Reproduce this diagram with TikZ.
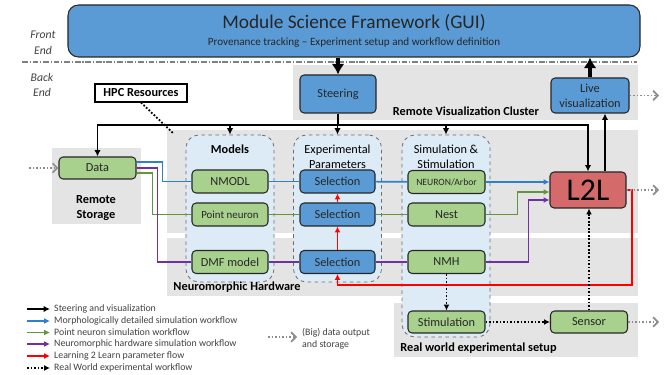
\documentclass[tikz,border=0pt]{standalone}
\usepackage{fontspec}
\setmainfont{Carlito}
\usepackage{xcolor}
\usepackage{tikz}
\usetikzlibrary{arrows.meta,calc}
\definecolor{fwblue}{RGB}{91,155,213}
\definecolor{fwgreen}{RGB}{169,209,142}
\definecolor{fwred}{RGB}{212,106,106}
\definecolor{fwgray}{RGB}{228,228,228}
\definecolor{fwpale}{RGB}{221,235,247}
\definecolor{fwedge}{RGB}{38,38,38}
\definecolor{fwtext}{RGB}{64,64,64}
\definecolor{lnblue}{RGB}{47,128,204}
\definecolor{lngreen}{RGB}{96,150,60}
\definecolor{lnpurple}{RGB}{112,48,160}
\definecolor{lnred}{RGB}{255,0,0}
\definecolor{lnout}{RGB}{140,140,140}
\tikzset{
fwbox/.style={rectangle,rounded corners=3.5pt,draw=fwedge,line width=0.9pt,align=center,inner sep=1pt,text=fwedge},
fwbluebox/.style={fwbox,fill=fwblue},
fwgreenbox/.style={fwbox,fill=fwgreen},
fwltl/.style={fwbox,fill=fwred,text=black,font=\fontsize{27}{30}\selectfont},
fwhpc/.style={rectangle,draw=black,line width=0.9pt,fill=white,inner sep=1pt,font=\bfseries\fontsize{10.5}{12.5}\selectfont},
fwregion/.style={rectangle,fill=fwgray,inner sep=0pt},
fwgroup/.style={rectangle,rounded corners=11pt,draw=gray!85!black,dashed,line width=0.7pt,fill=fwpale,inner sep=0pt},
fwtitle/.style={align=center,inner sep=0pt,font=\fontsize{10.5}{12.8}\selectfont},
fwlabel/.style={align=center,inner sep=0pt,font=\bfseries\fontsize{10.5}{13.5}\selectfont},
fwside/.style={align=center,inner sep=0pt,text=fwtext,font=\itshape\fontsize{10}{13.5}\selectfont},
fwlegend/.style={anchor=west,align=left,inner sep=0pt,text=fwtext,font=\fontsize{8.4}{10.2}\selectfont},
fwsep/.style={gray,line width=1pt,dash pattern=on 5pt off 1.5pt on 1pt off 1.5pt},
fwbig/.style={line width=2.6pt,-{Latex[length=9pt,width=11pt]}},
fwsteer/.style={line width=1.5pt,black},
fwsteerarr/.style={fwsteer,-{Latex[length=5.5pt,width=5.5pt]}},
fwtip/.style={-{Latex[length=5pt,width=5pt]}},
fwbline/.style={line width=1.4pt,lnblue},
fwgline/.style={line width=1.4pt,lngreen},
fwpline/.style={line width=1.4pt,lnpurple},
fwrline/.style={line width=1.4pt,lnred},
fwdots/.style={black,line width=1.5pt,dash pattern=on 1.5pt off 1.5pt,-{Latex[length=5pt,width=5pt]}},
fwhpcdots/.style={black,line width=1.5pt,dash pattern=on 1.5pt off 1.5pt},
fwout/.style={lnout,line width=1.4pt,dash pattern=on 1.5pt off 1.5pt,-{Straight Barb[length=4pt,width=8pt]}}
}
\begin{document}
\begin{tikzpicture}[
x=0.03cm,
y=-0.03cm,
every node/.style={font=\fontsize{10.5}{12.5}\selectfont}
]
\useasboundingbox (0,0) rectangle (666,375);
\node[fwregion,minimum width=10.35cm,minimum height=1.65cm] (visreg) at (465.5,92.5) {};
\node[fwregion,minimum width=14.13cm,minimum height=3.09cm] (hpcreg) at (402.5,181.5) {};
\node[fwregion,minimum width=14.13cm,minimum height=1.74cm] (nmreg) at (402.5,267) {};
\node[fwregion,minimum width=2.67cm,minimum height=2.28cm] (storereg) at (96.5,186) {};
\node[fwregion,minimum width=7.32cm,minimum height=1.62cm] (realreg) at (516,330) {};
\node[fwbluebox,rounded corners=9pt,minimum width=17.16cm,minimum height=1.56cm,font=\fontsize{9.5}{14.5}\selectfont]
  (gui) at (354,31) {{\fontsize{16.5}{18}\selectfont Module Science Framework (GUI)}\\Provenance tracking -- Experiment setup and workflow definition};
\node[fwside] (front) at (43,43) {Front\\End};
\node[fwside] (back) at (42,85) {Back\\End};
\node[fwhpc,minimum width=2.76cm,minimum height=0.54cm] (hpc) at (141,93) {HPC Resources};
\node[fwbluebox,minimum width=2.28cm,minimum height=1.14cm] (steering) at (338,94) {Steering};
\node[fwbluebox,minimum width=2.34cm,minimum height=1.05cm] (livevis) at (590,95.5) {Live\\visualization};
\node[fwlabel] (vislabel) at (466,111.5) {Remote Visualization Cluster};
\node[fwgroup,minimum width=2.64cm,minimum height=4.41cm] (models) at (230,208.5) {};
\node[fwgroup,minimum width=2.64cm,minimum height=4.41cm] (params) at (337.5,208.5) {};
\node[fwgroup,minimum width=2.64cm,minimum height=6.06cm] (simstim) at (446,236) {};
\node[fwlabel] (modelstitle) at (230,149) {Models};
\node[fwtitle] (paramstitle) at (337.5,156.5) {Experimental\\Parameters};
\node[fwtitle] (simtitle) at (446,156.5) {Simulation \&\\Stimulation};
\node[fwgreenbox,minimum width=2.31cm,minimum height=0.66cm] (data) at (97.5,168) {Data};
\node[fwlabel] (storelabel) at (96,208) {Remote\\Storage};
\node[fwgreenbox,minimum width=2.28cm,minimum height=0.69cm] (nmodl) at (230,181.5) {NMODL};
\node[fwgreenbox,minimum width=2.28cm,minimum height=0.69cm,font=\fontsize{9.3}{11}\selectfont] (pointneuron) at (230,214.5) {Point neuron};
\node[fwgreenbox,minimum width=2.28cm,minimum height=0.69cm] (dmf) at (230,262) {DMF model};
\node[fwbluebox,minimum width=2.25cm,minimum height=0.69cm] (sel1) at (337.5,181.5) {Selection};
\node[fwbluebox,minimum width=2.25cm,minimum height=0.69cm] (sel2) at (337.5,214.5) {Selection};
\node[fwbluebox,minimum width=2.25cm,minimum height=0.69cm] (sel3) at (337.5,262) {Selection};
\node[fwgreenbox,minimum width=2.31cm,minimum height=0.69cm,font=\fontsize{8.2}{10}\selectfont] (neuron) at (446.5,182) {NEURON/Arbor};
\node[fwgreenbox,minimum width=2.31cm,minimum height=0.69cm] (nest) at (446.5,214.5) {Nest};
\node[fwgreenbox,minimum width=2.31cm,minimum height=0.69cm] (nmh) at (446.5,262) {NMH};
\node[fwltl,minimum width=2.28cm,minimum height=1.08cm] (ltl) at (588,190) {L2L};
\node[fwlabel] (nmlabel) at (237,287) {Neuromorphic Hardware};
\node[fwgreenbox,minimum width=2.31cm,minimum height=0.66cm] (stim) at (446.5,322) {Stimulation};
\node[fwgreenbox,minimum width=2.31cm,minimum height=0.66cm] (sensor) at (589,322) {Sensor};
\node[fwlabel] (reallabel) at (478.5,348) {Real world experimental setup};
\node[fwlegend] (lgsteer) at (54,309) {Steering and visualization};
\node[fwlegend] (lgmorph) at (54,321) {Morphologically detailed simulation workflow};
\node[fwlegend] (lgpoint) at (54,332.5) {Point neuron simulation workflow};
\node[fwlegend] (lgneuro) at (54,344) {Neuromorphic hardware simulation workflow};
\node[fwlegend] (lglearn) at (54,356) {Learning 2 Learn parameter flow};
\node[fwlegend] (lgreal) at (54,368) {Real World experimental workflow};
\node[fwlegend] (lgout) at (302,339) {(Big) data output\\and storage};
\coordinate (bus) at (338,125);
\coordinate (vistap) at (605,0);
\coordinate (hpctip) at (174,134);
\coordinate (ltlloop) at (632,285);
\coordinate (outx) at (659,0);
\coordinate (datain) at (29,168);
\draw[fwsep] (22,62) -- (637,62);
\draw[fwbig] (gui.south -| steering) -- (steering);
\draw[fwbig] (livevis) -- (livevis.north |- gui.south);
\draw[fwsteer] (steering) -- (bus);
\draw[fwsteerarr] (bus) -| (data);
\draw[fwsteerarr] (bus) -| (ltl);
\draw[fwsteerarr] (models.north |- bus) -- (models);
\draw[fwsteerarr] (params.north |- bus) -- (params);
\draw[fwsteerarr] (simstim.north |- bus) -- (simstim);
\draw[fwsteerarr] (ltl.north -| vistap) -- (livevis.south -| vistap);
\draw[fwhpcdots] (hpc.south) -- (hpctip);
\draw[fwbline] ($(data.east)+(0,-6)$) -- ++(26,0) |- (nmodl);
\draw[fwgline] ($(data.east)+(0,5)$) -- ++(16,0) |- (pointneuron);
\draw[fwpline] (data.east) -- ++(21,0) |- (dmf);
\draw[fwbline] (nmodl) -- (sel1);
\draw[fwbline] (sel1) -- (neuron);
\draw[fwbline,fwtip] (neuron) -- (ltl.west |- neuron);
\draw[fwgline] (pointneuron) -- (sel2);
\draw[fwgline] (sel2) -- (nest);
\draw[fwgline,fwtip] (nest.east) -- ++(32,0) |- ($(ltl.west)+(0,2)$);
\draw[fwpline] (dmf) -- (sel3);
\draw[fwpline] (sel3) -- (nmh);
\draw[fwpline,fwtip] (nmh.east) -- ++(43,0) |- ($(ltl.west)+(0,10)$);
\draw[fwrline,fwtip] (ltl.east) -| (ltlloop) -| (sel3);
\draw[fwrline,fwtip] (sel3) -- (sel2);
\draw[fwrline,fwtip] (sel2) -- (sel1);
\draw[fwdots] (nmh) -- (stim);
\draw[fwdots] (stim) -- (sensor);
\draw[fwdots] (sensor) -- (sensor |- ltl.south);
\draw[fwout] (datain) -- (data);
\draw[fwout] (livevis.east) -- (livevis.east -| outx);
\draw[fwout] (ltl.east) -- (ltl.east -| outx);
\draw[fwout] (sensor.east) -- (sensor.east -| outx);
\draw[fwsteerarr] ($(lgsteer.west)+(-27,0)$) -- ($(lgsteer.west)+(-4,0)$);
\draw[fwbline,fwtip] ($(lgmorph.west)+(-27,0)$) -- ($(lgmorph.west)+(-4,0)$);
\draw[fwgline,fwtip] ($(lgpoint.west)+(-27,0)$) -- ($(lgpoint.west)+(-4,0)$);
\draw[fwpline,fwtip] ($(lgneuro.west)+(-27,0)$) -- ($(lgneuro.west)+(-4,0)$);
\draw[fwrline,fwtip] ($(lglearn.west)+(-27,0)$) -- ($(lglearn.west)+(-4,0)$);
\draw[fwdots] ($(lgreal.west)+(-27,0)$) -- ($(lgreal.west)+(-4,0)$);
\draw[fwout] ($(lgout.west)+(-34,-2)$) -- ($(lgout.west)+(-5,-2)$);
\end{tikzpicture}
\end{document}
